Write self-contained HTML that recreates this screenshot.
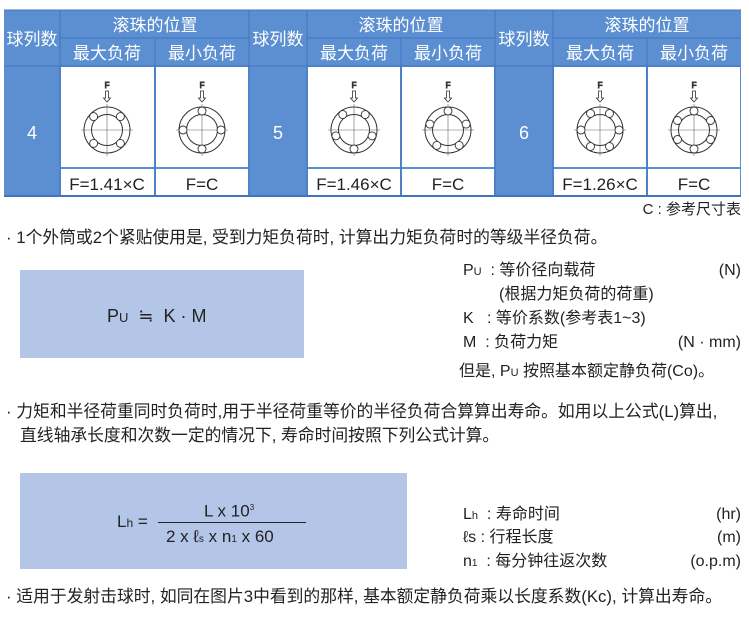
<!DOCTYPE html>
<html><head><meta charset="utf-8"><style>
body{margin:0;width:749px;height:618px;background:#fff;position:relative;font-family:"Liberation Sans","Noto Sans CJK SC",sans-serif;color:#222;overflow:hidden}
.a{position:absolute;white-space:nowrap;line-height:20px}
.t{font-size:16px}
.b{font-size:16.8px}
</style></head><body>
<svg width="749" height="200" style="position:absolute;left:0;top:0" font-family="Liberation Sans, Noto Sans CJK SC, sans-serif">
<rect x="4" y="10" width="737" height="186" fill="#5b8fd1"/>
<g fill="#fff">
<rect x="61" y="67" width="93" height="100"/><rect x="156" y="67" width="92" height="100"/>
<rect x="308" y="67" width="92" height="100"/><rect x="402" y="67" width="92" height="100"/>
<rect x="554" y="67" width="92" height="100"/><rect x="648" y="67" width="92" height="100"/>
<rect x="61" y="169" width="93" height="27"/><rect x="156" y="169" width="92" height="27"/>
<rect x="308" y="169" width="92" height="27"/><rect x="402" y="169" width="92" height="27"/>
<rect x="554" y="169" width="92" height="27"/><rect x="648" y="169" width="92" height="27"/>
</g>
<g stroke="#3f75bf" stroke-width="1">
<line x1="60" y1="10" x2="60" y2="196"/><line x1="249" y1="10" x2="249" y2="196"/>
<line x1="307" y1="10" x2="307" y2="196"/><line x1="495" y1="10" x2="495" y2="196"/>
<line x1="553" y1="10" x2="553" y2="196"/>
<line x1="155" y1="38" x2="155" y2="196"/><line x1="401" y1="38" x2="401" y2="196"/><line x1="647" y1="38" x2="647" y2="196"/>
<line x1="60" y1="38" x2="249" y2="38"/><line x1="307" y1="38" x2="495" y2="38"/><line x1="553" y1="38" x2="741" y2="38"/>
<line x1="4" y1="66" x2="741" y2="66"/>
<line x1="4" y1="10" x2="741" y2="10"/><line x1="4" y1="196" x2="741" y2="196" stroke-width="2"/>
</g>
<g fill="#fff" font-size="17" text-anchor="middle">
<text x="32" y="45">球列数</text><text x="278" y="45">球列数</text><text x="524" y="45">球列数</text>
<text x="155" y="31">滚珠的位置</text><text x="401" y="31">滚珠的位置</text><text x="647" y="31">滚珠的位置</text>
<text x="107" y="59">最大负荷</text><text x="202" y="59">最小负荷</text>
<text x="354" y="59">最大负荷</text><text x="448" y="59">最小负荷</text>
<text x="600" y="59">最大负荷</text><text x="694" y="59">最小负荷</text>
<text x="32" y="139" font-size="18">4</text><text x="278" y="139" font-size="18">5</text><text x="524" y="139" font-size="18">6</text>
</g>
<g fill="#222" font-size="17" text-anchor="middle">
<text x="107" y="190">F=1.41×C</text><text x="202" y="190">F=C</text>
<text x="354" y="190">F=1.46×C</text><text x="448" y="190">F=C</text>
<text x="600" y="190">F=1.26×C</text><text x="694" y="190">F=C</text>
</g>
<defs>
<g id="b"><line x1="-26" y1="0" x2="26" y2="0" stroke="#666" stroke-width=".6"/><line x1="0" y1="-26" x2="0" y2="26" stroke="#666" stroke-width=".6"/>
<circle r="23" fill="none" stroke="#333" stroke-width="1"/><circle r="15.5" fill="none" stroke="#333" stroke-width="1"/>
<text x="0" y="-42" font-size="8" text-anchor="middle" fill="#333">F</text>
<path d="M-1.5 -39 V-32 H-3.5 L0 -28 L3.5 -32 H1.5 V-39 Z" fill="none" stroke="#333" stroke-width=".8"/></g>
</defs>
<g fill="#fff" stroke="#333" stroke-width=".9">
<g transform="translate(107,130)"><use href="#b"/><circle cx="13.4" cy="-13.4" r="4"/><circle cx="-13.4" cy="-13.4" r="4"/><circle cx="13.4" cy="13.4" r="4"/><circle cx="-13.4" cy="13.4" r="4"/></g>
<g transform="translate(202,130)"><use href="#b"/><circle cx="0" cy="-19" r="4"/><circle cx="19" cy="0" r="4"/><circle cx="0" cy="19" r="4"/><circle cx="-19" cy="0" r="4"/></g>
<g transform="translate(354,130)"><use href="#b"/><circle cx="11.2" cy="-15.4" r="4"/><circle cx="18.1" cy="5.9" r="4"/><circle cx="0" cy="19" r="4"/><circle cx="-18.1" cy="5.9" r="4"/><circle cx="-11.2" cy="-15.4" r="4"/></g>
<g transform="translate(448,130)"><use href="#b"/><circle cx="0" cy="-19" r="4"/><circle cx="18.1" cy="-5.9" r="4"/><circle cx="11.2" cy="15.4" r="4"/><circle cx="-11.2" cy="15.4" r="4"/><circle cx="-18.1" cy="-5.9" r="4"/></g>
<g transform="translate(600,130)"><use href="#b"/><circle cx="9.5" cy="-16.5" r="4"/><circle cx="19" cy="0" r="4"/><circle cx="9.5" cy="16.5" r="4"/><circle cx="-9.5" cy="16.5" r="4"/><circle cx="-19" cy="0" r="4"/><circle cx="-9.5" cy="-16.5" r="4"/></g>
<g transform="translate(694,130)"><use href="#b"/><circle cx="0" cy="-19" r="4"/><circle cx="16.5" cy="-9.5" r="4"/><circle cx="16.5" cy="9.5" r="4"/><circle cx="0" cy="19" r="4"/><circle cx="-16.5" cy="9.5" r="4"/><circle cx="-16.5" cy="-9.5" r="4"/></g>
</g>
</svg>
<div class="a t" style="right:8px;top:200px;font-size:15px">C : 参考尺寸表</div>
<div class="a b" style="left:6px;top:228px">· 1个外筒或2个紧贴使用是, 受到力矩负荷时, 计算出力矩负荷时的等级半径负荷。</div>
<div class="a" style="left:20px;top:270px;width:284px;height:88px;background:#b4c6e8"></div>
<div class="a t" style="left:107px;top:306px;font-size:18px">P<span style="font-size:13px">U</span> &nbsp;≒ &nbsp;K · M</div>
<div class="a t" style="left:463px;top:261px">P<span style="font-size:11px">U</span> &nbsp;: 等价径向载荷</div><div class="a t" style="right:8px;top:261px">(N)</div>
<div class="a t" style="left:499px;top:285px">(根据力矩负荷的荷重)</div>
<div class="a t" style="left:463px;top:309px">K &nbsp;&nbsp;: 等价系数(参考表1~3)</div>
<div class="a t" style="left:463px;top:333px">M &nbsp;: 负荷力矩</div><div class="a t" style="right:8px;top:333px">(N · mm)</div>
<div class="a t" style="left:459px;top:362px">但是, P<span style="font-size:11px">U</span> 按照基本额定静负荷(Co)。</div>
<div class="a b" style="left:6px;top:402px">· 力矩和半径荷重同时负荷时,用于半径荷重等价的半径负荷合算算出寿命。如用以上公式(L)算出,</div>
<div class="a b" style="left:20px;top:426px">直线轴承长度和次数一定的情况下, 寿命时间按照下列公式计算。</div>
<div class="a" style="left:20px;top:473px;width:387px;height:96px;background:#b4c6e8"></div>
<div class="a t" style="left:117px;top:512px;font-size:17px">L<span style="font-size:12px">h</span> =</div>
<div class="a" style="left:158px;top:522px;width:148px;height:1px;background:#222"></div>
<div class="a t" style="left:204px;top:498px;font-size:17px">L x 10<sup style="font-size:8px">3</sup></div>
<div class="a t" style="left:166px;top:527px;font-size:17px">2 x ℓ<span style="font-size:10px">s</span> x n<span style="font-size:10px">1</span> x 60</div>
<div class="a t" style="left:463px;top:505px">L<span style="font-size:11px">h</span> &nbsp;: 寿命时间</div><div class="a t" style="right:8px;top:505px">(hr)</div>
<div class="a t" style="left:463px;top:528px">ℓs : 行程长度</div><div class="a t" style="right:8px;top:528px">(m)</div>
<div class="a t" style="left:463px;top:552px">n<span style="font-size:10px">1</span> &nbsp;: 每分钟往返次数</div><div class="a t" style="right:8px;top:552px">(o.p.m)</div>
<div class="a b" style="left:6px;top:587px">· 适用于发射击球时, 如同在图片3中看到的那样, 基本额定静负荷乘以长度系数(Kc), 计算出寿命。</div>
</body></html>
